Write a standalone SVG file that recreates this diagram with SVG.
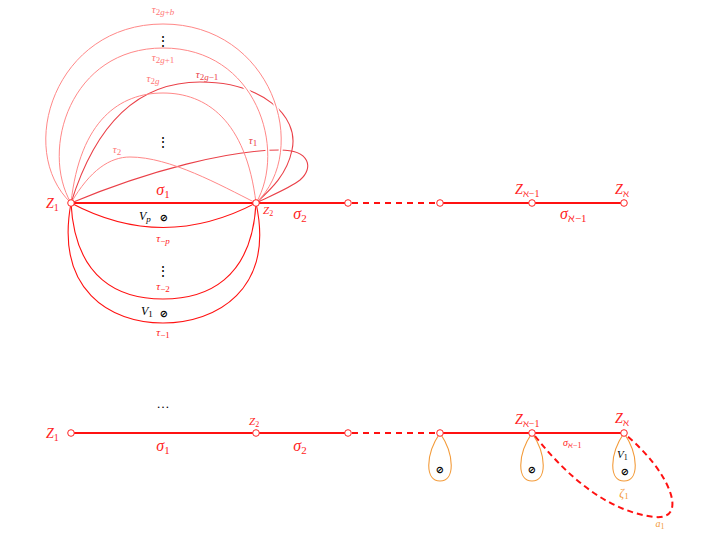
<svg xmlns="http://www.w3.org/2000/svg" width="708" height="535" viewBox="0 0 708 535">
<style>
text{font-family:"Liberation Serif","DejaVu Serif",serif;}
.m{font-style:italic;}
.sub{font-style:normal;}
.lbl{fill:#f22;}
.pk{fill:#f77;font-size:11px;}
.bk{fill:#000;}
.main{stroke:#f11;stroke-width:1.8;fill:none;}
.dash{stroke:#f11;stroke-width:1.8;fill:none;stroke-dasharray:6 5;}
.light{stroke:#f88;stroke-width:1;fill:none;}
.med{stroke:#ea4048;stroke-width:1.1;fill:none;}
.low{stroke:#f11;stroke-width:1.1;fill:none;}
.halo{stroke:#fff;stroke-width:4;fill:none;}
.or{stroke:#f39b3a;stroke-width:1.1;fill:none;}
.ad{stroke:#f11;stroke-width:2;fill:none;stroke-dasharray:6 4;}
.pt{fill:#fff;stroke:#f22;stroke-width:1;}
.sym{font-family:"DejaVu Sans",sans-serif;font-size:10px;font-weight:bold;fill:#000;text-anchor:middle;}
</style>
<defs>
<clipPath id="rc"><rect x="228" y="55" width="100" height="118"/></clipPath>
</defs>
<g id="connectors">
<path class="med" d="M71,203 C100,110 150,82 200,82 C260,82 300,115 292,150 C287,175 270,190 256,203"/>
<path class="med" d="M71,203 C150,170 230,150 280,150 C310,150 314,168 300,180 C290,188 270,196 256,203"/>
<path class="halo" clip-path="url(#rc)" d="M163,24 C272,24 312,150 256,203"/>
<path class="halo" clip-path="url(#rc)" d="M163,48 C257,48 287,150 256,203"/>
<path class="light" d="M71,203 C15,150 55,24 163,24 C272,24 312,150 256,203"/>
<path class="light" d="M71,203 C40,150 70,48 163,48 C257,48 287,150 256,203"/>
<path class="light" d="M71,203 C80,120 120,93 163,93 C206,93 246,120 256,203"/>
<path class="light" d="M71,203 C90,170 110,157 130,157 C170,157 220,185 256,203"/>
<path class="low" d="M71,203 Q163,252 256,203"/>
<path class="low" d="M71,203 C75,280 120,299 163,299 C206,299 252,280 256,203"/>
<path class="low" d="M71,203 C55,290 110,323 163,323 C216,323 275,290 256,203"/>
<path class="main" d="M71,203 H348"/>
<path class="dash" d="M352,203 H436"/>
<path class="main" d="M440,203 H624"/>
<path class="main" d="M71,433 H348"/>
<path class="dash" d="M352,433 H436"/>
<path class="main" d="M440,433 H624"/>
<path class="or" d="M440,433 C425,455 425,481 440,481 C455,481 455,455 440,433"/>
<path class="or" d="M532,433 C517,455 517,481 532,481 C547,481 547,455 532,433"/>
<path class="or" d="M624,433 C609,455 609,481 624,481 C639,481 639,455 624,433"/>
<path class="ad" d="M535,436 C570,480 610,512 655,517 C690,520 668,470 627,436"/>
</g>
<g id="Z1_top"><circle class="pt" cx="71" cy="203" r="3.3"/><text x="46" y="208" class="lbl m" font-size="14">Z<tspan class="sub" font-size="10" dy="3">1</tspan></text></g>
<g id="Z2_top"><circle class="pt" cx="256" cy="203" r="3.3"/><text x="263" y="214" class="lbl m" font-size="11">Z<tspan class="sub" font-size="8" dy="2">2</tspan></text></g>
<g id="P3_top"><circle class="pt" cx="348" cy="203" r="3.3"/></g>
<g id="P4_top"><circle class="pt" cx="440" cy="203" r="3.3"/></g>
<g id="Zn1_top"><circle class="pt" cx="532" cy="203" r="3.3"/><text x="515" y="194" class="lbl m" font-size="14">Z<tspan class="sub" font-size="10" dy="3">ℵ−1</tspan></text></g>
<g id="Zn_top"><circle class="pt" cx="624" cy="203" r="3.3"/><text x="615" y="194" class="lbl m" font-size="14">Z<tspan class="sub" font-size="10" dy="3">ℵ</tspan></text></g>
<g id="labels_top">
<text x="163" y="195" class="lbl m" font-size="16" text-anchor="middle">σ<tspan class="sub" font-size="11" dy="3">1</tspan></text>
<text x="300" y="219" class="lbl m" font-size="16" text-anchor="middle">σ<tspan class="sub" font-size="11" dy="3">2</tspan></text>
<text x="560" y="219" class="lbl m" font-size="16">σ<tspan class="sub" font-size="11" dy="3">ℵ−1</tspan></text>
<text x="163" y="13" class="pk m" text-anchor="middle">τ<tspan class="sub" font-size="9" dy="2">2<tspan class="m">g</tspan>+<tspan class="m">b</tspan></tspan></text>
<text x="163" y="46" class="bk" font-size="14" text-anchor="middle">⋮</text>
<text x="163" y="61" class="pk m" text-anchor="middle">τ<tspan class="sub" font-size="9" dy="2">2<tspan class="m">g</tspan>+1</tspan></text>
<text x="153" y="82" class="pk m" text-anchor="middle">τ<tspan class="sub" font-size="9" dy="2">2<tspan class="m">g</tspan></tspan></text>
<text x="207" y="78" class="m" font-size="11" fill="#ea4048" text-anchor="middle">τ<tspan class="sub" font-size="9" dy="2">2<tspan class="m">g</tspan>−1</tspan></text>
<text x="163" y="147" class="bk" font-size="14" text-anchor="middle">⋮</text>
<text x="117" y="153" class="pk m" text-anchor="middle">τ<tspan class="sub" font-size="9" dy="2">2</tspan></text>
<text x="253" y="144" class="m" font-size="11" fill="#ea4048" text-anchor="middle">τ<tspan class="sub" font-size="9" dy="2">1</tspan></text>
<text x="139" y="220" class="bk m" font-size="12">V<tspan class="sub" font-size="9" dy="2"><tspan class="m">p</tspan></tspan></text>
<text x="164" y="221" class="sym">⊘</text>
<text x="163" y="242" class="m" font-size="11" fill="#f22" text-anchor="middle">τ<tspan class="sub" font-size="9" dy="2">−<tspan class="m">p</tspan></tspan></text>
<text x="163" y="276" class="bk" font-size="14" text-anchor="middle">⋮</text>
<text x="163" y="290" class="m" font-size="11" fill="#f22" text-anchor="middle">τ<tspan class="sub" font-size="9" dy="2">−2</tspan></text>
<text x="141" y="315" class="bk m" font-size="12">V<tspan class="sub" font-size="9" dy="2">1</tspan></text>
<text x="164" y="317" class="sym">⊘</text>
<text x="163" y="336" class="m" font-size="11" fill="#f22" text-anchor="middle">τ<tspan class="sub" font-size="9" dy="2">−1</tspan></text>
</g>
<g id="Z1_bot"><circle class="pt" cx="71" cy="433" r="3.3"/><text x="46" y="438" class="lbl m" font-size="14">Z<tspan class="sub" font-size="10" dy="3">1</tspan></text></g>
<g id="Z2_bot"><circle class="pt" cx="256" cy="433" r="3.3"/><text x="249" y="425" class="lbl m" font-size="11">Z<tspan class="sub" font-size="8" dy="2">2</tspan></text></g>
<g id="P3_bot"><circle class="pt" cx="348" cy="433" r="3.3"/></g>
<g id="P4_bot"><circle class="pt" cx="440" cy="433" r="3.3"/><text x="440" y="473" class="sym">⊘</text></g>
<g id="Zn1_bot"><circle class="pt" cx="532" cy="433" r="3.3"/><text x="515" y="424" class="lbl m" font-size="14">Z<tspan class="sub" font-size="10" dy="3">ℵ−1</tspan></text><text x="532" y="473" class="sym">⊘</text></g>
<g id="Zn_bot"><circle class="pt" cx="624" cy="433" r="3.3"/><text x="615" y="423" class="lbl m" font-size="14">Z<tspan class="sub" font-size="10" dy="3">ℵ</tspan></text><text x="617" y="458" class="bk m" font-size="11">V<tspan class="sub" font-size="8" dy="2">1</tspan></text><text x="625" y="475" class="sym">⊘</text></g>
<g id="labels_bot">
<text x="163" y="408" class="bk" font-size="13" text-anchor="middle">…</text>
<text x="163" y="451" class="lbl m" font-size="16" text-anchor="middle">σ<tspan class="sub" font-size="11" dy="3">1</tspan></text>
<text x="300" y="451" class="lbl m" font-size="16" text-anchor="middle">σ<tspan class="sub" font-size="11" dy="3">2</tspan></text>
<text x="563" y="446" class="m" font-size="10" fill="#f22">σ<tspan class="sub" font-size="8" dy="2">ℵ−1</tspan></text>
<text x="624" y="497" class="m" font-size="12" fill="#f39b3a" text-anchor="middle">ζ<tspan class="sub" font-size="9" dy="2">1</tspan></text>
<text x="660" y="527" class="m" font-size="10" fill="#f39b3a" text-anchor="middle">a<tspan class="sub" font-size="8" dy="2">1</tspan></text>
</g>
</svg>
